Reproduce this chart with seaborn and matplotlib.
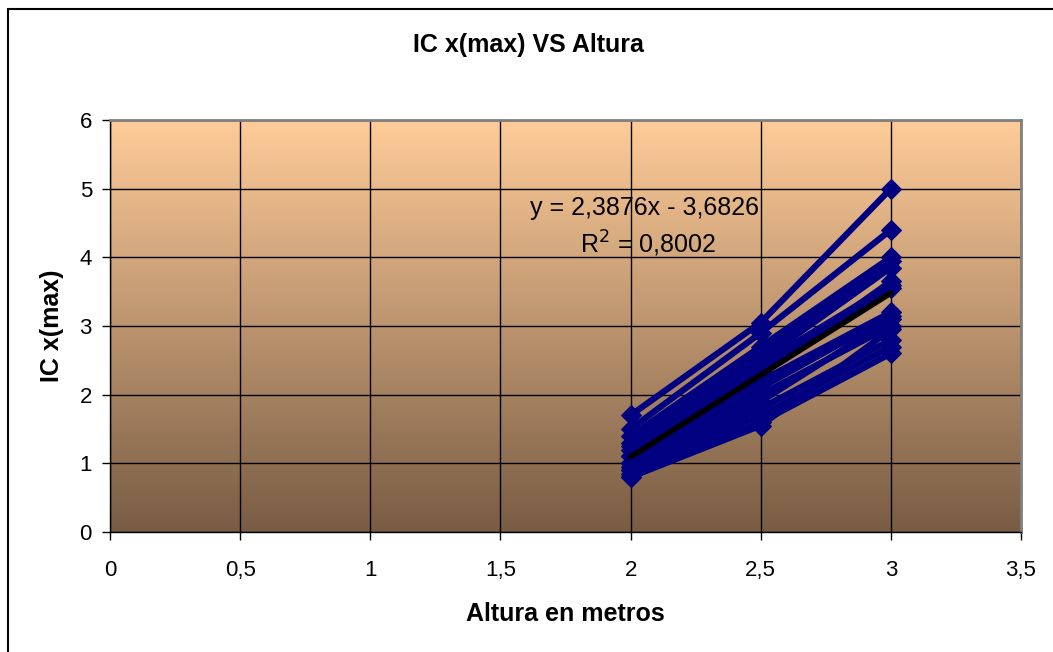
import numpy as np
import pandas as pd
import matplotlib
matplotlib.use("Agg")
import matplotlib.pyplot as plt
import seaborn as sns
from matplotlib.ticker import FuncFormatter, MultipleLocator
from matplotlib.patches import Rectangle
from matplotlib.colors import LinearSegmentedColormap

# ---- data ----
heights = [2.0, 2.5, 3.0]
v_at_2 = [1.7, 1.5, 1.4, 1.3, 1.25, 1.2, 1.1, 1.1, 1.0, 1.0, 0.95, 0.9, 0.9, 0.85, 0.8, 0.8]
v_at_25 = [3.05, 2.9, 2.7, 2.6, 2.5, 2.45, 2.35, 2.2, 2.3, 2.1, 2.0, 1.9, 1.8, 1.7, 1.6, 1.55]
v_at_3 = [5.0, 4.4, 4.0, 3.95, 3.85, 3.6, 3.55, 3.2, 3.65, 3.15, 3.0, 3.1, 2.8, 2.7, 2.6, 2.95]
trend_slope = 2.3876
trend_intercept = -3.6826
trend_x = [2.0, 3.0]
eq_text = "y = 2,3876x - 3,6826"
r2_text = "R$^2$ = 0,8002"
title = "IC x(max) VS Altura"
xlabel = "Altura en metros"
ylabel = "IC x(max)"

rows = []
for i in range(len(v_at_2)):
    for h, v in zip(heights, [v_at_2[i], v_at_25[i], v_at_3[i]]):
        rows.append({"serie": i, "altura": h, "ic": v})
df = pd.DataFrame(rows)

sns.set_style("white")
plt.rcParams['font.family'] = ['Liberation Sans', 'DejaVu Sans']
plt.rcParams['text.color'] = 'black'
plt.rcParams['axes.labelcolor'] = 'black'
plt.rcParams['xtick.color'] = 'black'
plt.rcParams['ytick.color'] = 'black'

fig = plt.figure(figsize=(10.53, 6.52), dpi=100)
ax = fig.add_axes([110/1053, (652-532)/652, 911/1053, 412/652])

# background gradient (light top -> dark bottom)
grad = np.linspace(0, 1, 256).reshape(-1, 1)
cmap = LinearSegmentedColormap.from_list("bg", ["#FFCC99", "#785C44"])
ax.imshow(grad, aspect='auto', cmap=cmap, extent=[0, 3.5, 0, 6], origin='upper',
          zorder=0, interpolation='bilinear')

sns.lineplot(data=df, x="altura", y="ic", units="serie", estimator=None,
             color="#000080", lw=4.5, marker="D", markersize=10,
             markeredgecolor="#000080", ax=ax, legend=False, zorder=3)

tx = np.array(trend_x)
sns.lineplot(x=tx, y=trend_slope * tx + trend_intercept, color="black",
             lw=4, ax=ax, zorder=4)

ax.set_xlim(0, 3.5)
ax.set_ylim(0, 6)
ax.xaxis.set_major_locator(MultipleLocator(0.5))
ax.yaxis.set_major_locator(MultipleLocator(1))
fmt = FuncFormatter(lambda v, p: (f"{v:g}").replace(".", ","))
ax.xaxis.set_major_formatter(fmt)
ax.yaxis.set_major_formatter(fmt)
ax.grid(True, color="black", lw=1)
for l in ax.get_xgridlines() + ax.get_ygridlines():
    l.set_zorder(1)
ax.tick_params(axis='both', labelsize=16, length=6, width=1, color="black",
               direction="out", bottom=True, left=True)
ax.tick_params(axis='x', pad=14)
ax.tick_params(axis='y', pad=7)
for s in ["top", "right"]:
    ax.spines[s].set_color("#808080")
    ax.spines[s].set_linewidth(2)
for s in ["left", "bottom"]:
    ax.spines[s].set_color("black")
    ax.spines[s].set_linewidth(1)

ax.set_xlabel(xlabel, fontsize=18, fontweight="bold", labelpad=15)
ax.set_ylabel(ylabel, fontsize=18, fontweight="bold", labelpad=11)

fig.text(528/1053, 1 - 45/652, title, fontsize=18, fontweight="bold",
         ha="center", va="center")
fig.text(645/1053, 1 - 208/652, eq_text, fontsize=18, ha="center", va="center", zorder=6)
fig.text(648/1053, 1 - 244/652, r2_text, fontsize=18, ha="center", va="center", zorder=6)

# outer chart border
fig.patches.append(Rectangle((8/1053, -0.1), 1.2, 1 - 9/652 + 0.1,
                             transform=fig.transFigure, fill=False,
                             edgecolor="black", lw=1.5))

fig.savefig("out.png", dpi=100)
